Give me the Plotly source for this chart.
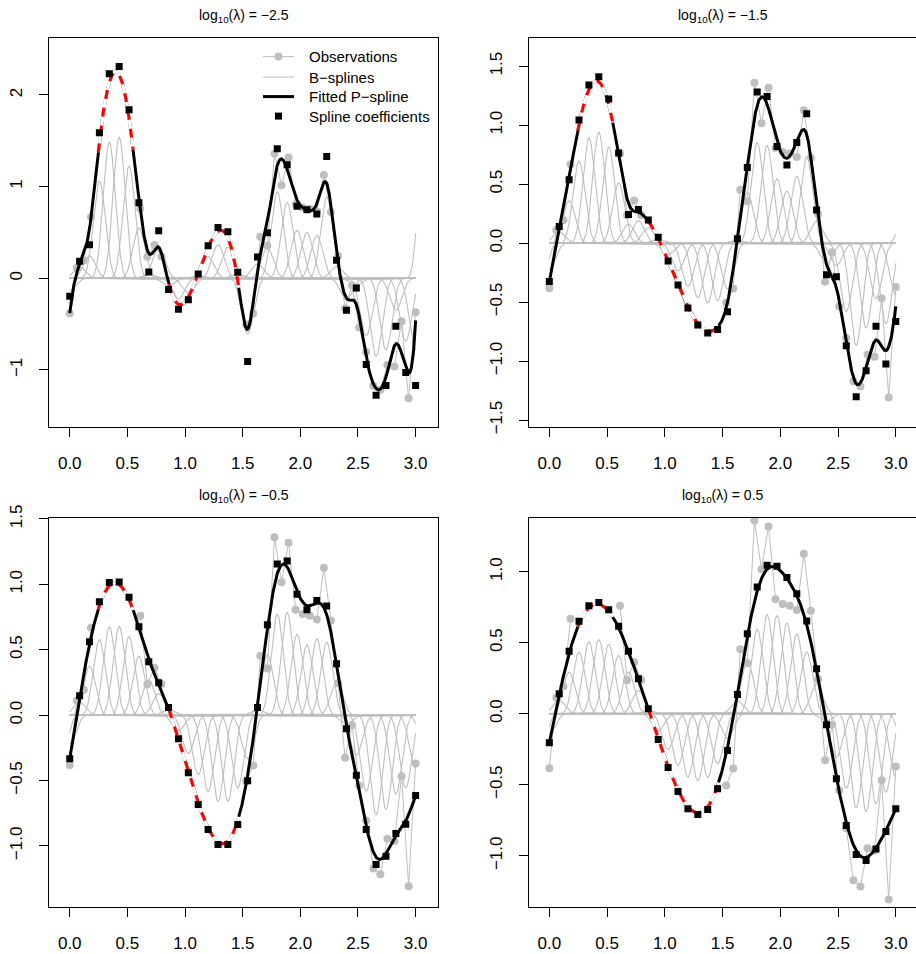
import numpy as np
import plotly.graph_objects as go

# ---------------- data ----------------
obs_x = [0.000, 0.061, 0.122, 0.184, 0.612, 0.673, 0.735, 0.796,
         1.531, 1.592, 1.653, 1.714, 1.776, 1.837, 1.898, 1.959, 2.020,
         2.082, 2.143, 2.204, 2.265, 2.327, 2.388, 2.449, 2.510, 2.571,
         2.633, 2.694, 2.755, 2.816, 2.878, 2.939, 3.000]
obs_y = [-0.383, 0.112, 0.194, 0.668, 0.760, 0.236, 0.362, 0.238,
         -0.505, -0.385, 0.453, 0.356, 1.360, 1.016, 1.318, 0.806, 0.772,
         0.760, 0.730, 1.126, 0.724, 0.244, -0.327, -0.078, -0.538, -0.805,
         -1.172, -1.216, -0.946, -0.962, -0.468, -1.308, -0.371]

# positions of the spline coefficients (knot centres, 35 segments on [0, 3])
coef_x = [0.0000, 0.0857, 0.1714, 0.2571, 0.3429, 0.4286, 0.5143, 0.6000,
          0.6857, 0.7714, 0.8571, 0.9429, 1.0286, 1.1143, 1.2000, 1.2857,
          1.3714, 1.4571, 1.5429, 1.6286, 1.7143, 1.8000, 1.8857, 1.9714,
          2.0571, 2.1429, 2.2286, 2.3143, 2.4000, 2.4857, 2.5714, 2.6571,
          2.7429, 2.8286, 2.9143, 3.0000]

coef_m25 = [-0.196, 0.185, 0.367, 1.589, 2.232, 2.312, 1.839, 0.825, 0.069,
            0.520, -0.123, -0.338, -0.233, 0.047, 0.356, 0.553, 0.509, 0.067,
            -0.909, 0.233, 0.498, 1.414, 1.240, 0.785, 0.749, 0.701, 1.330,
            0.196, -0.349, -0.106, -0.941, -1.276, -1.170, -0.523, -1.028, -1.170]
coef_m15 = [-0.326, 0.140, 0.538, 1.044, 1.340, 1.411, 1.222, 0.764, 0.242,
            0.284, 0.196, 0.049, -0.151, -0.354, -0.549, -0.693, -0.761, -0.733,
            -0.581, 0.038, 0.640, 1.281, 1.242, 0.818, 0.662, 0.852, 1.097,
            0.281, -0.267, -0.284, -0.869, -1.301, -1.081, -0.705, -1.024, -0.665]
coef_m05 = [-0.333, 0.148, 0.560, 0.866, 1.013, 1.018, 0.901, 0.675, 0.408,
            0.247, 0.059, -0.180, -0.440, -0.684, -0.875, -0.989, -0.989, -0.837,
            -0.501, 0.059, 0.690, 1.156, 1.178, 0.924, 0.805, 0.876, 0.835,
            0.392, -0.104, -0.460, -0.875, -1.142, -1.079, -0.905, -0.834, -0.615]
coef_p05 = [-0.204, 0.141, 0.439, 0.650, 0.760, 0.782, 0.732, 0.615, 0.439,
            0.246, 0.035, -0.181, -0.378, -0.547, -0.669, -0.709, -0.674, -0.528,
            -0.258, 0.136, 0.563, 0.892, 1.044, 1.037, 0.958, 0.845, 0.652,
            0.317, -0.077, -0.458, -0.787, -0.991, -1.033, -0.951, -0.829, -0.669]

# coefficients of the two boundary B-splines (centred just outside [0, 3], not plotted as squares)
edge_m25 = [-1.67, 2.95]
edge_m15 = [-0.80, 0.47]
edge_m05 = [-0.81, -0.40]
edge_p05 = [-0.55, -0.51]

# x-ranges with no observations (fit shown red dashed there)
gap_lo = [0.245, 0.857]
gap_hi = [0.551, 1.469]

panel_titles = ["\u22122.5", "\u22121.5", "\u22120.5", "0.5"]
legend_labels = ["Observations", "B\u2212splines", "Fitted P\u2212spline", "Spline coefficients"]
x_ticks = [0.0, 0.5, 1.0, 1.5, 2.0, 2.5, 3.0]
y_ticks_list = [[-1, 0, 1, 2],
                [-1.5, -1.0, -0.5, 0.0, 0.5, 1.0, 1.5],
                [-1.0, -0.5, 0.0, 0.5, 1.0, 1.5],
                [-1.0, -0.5, 0.0, 0.5, 1.0]]
y_fmt = [".0f", ".1f", ".1f", ".1f"]

# ---------------- layout geometry (pixels) ----------------
W, H = 916, 954


def vpx(y):
    # vertical calibration of the page capture (target pixel -> layout pixel)
    return (y - 12.4) / 0.978


box_x = [(49, 438), (529, 916), (49, 438), (529, 916)]
box_y = [(37, 426), (37, 426), (517, 906), (517, 906)]
x_ranges = [(-0.180, 3.194), (-0.176, 3.175), (-0.180, 3.194), (-0.176, 3.175)]
y_ranges = [(-1.618, 2.626), (-1.555, 1.742), (-1.464, 1.510), (-1.357, 1.380)]

coef_sets = [coef_m25, coef_m15, coef_m05, coef_p05]
edge_sets = [edge_m25, edge_m15, edge_m05, edge_p05]

GRAY = "#bebebe"
FONT = "Liberation Sans, Arial, Helvetica, sans-serif"


def cubic_bspline(x, centre, h):
    t = np.abs((x - centre) / h)
    return np.where(t < 1, 2.0 / 3.0 - t ** 2 + t ** 3 / 2.0,
                    np.where(t < 2, (2.0 - t) ** 3 / 6.0, 0.0))


h = float(np.mean(np.diff(coef_x)))
grid = np.linspace(0.0, 3.0, 901)
centres = [coef_x[0] - h] + list(coef_x) + [coef_x[-1] + h]

# observations with breaks across the data gaps
ox, oy = [], []
for i, (xv, yv) in enumerate(zip(obs_x, obs_y)):
    if i > 0 and any(obs_x[i - 1] < lo and xv > hi for lo, hi in zip(gap_lo, gap_hi)):
        ox.append(None)
        oy.append(None)
    ox.append(xv)
    oy.append(yv)

fig = go.Figure()

for k in range(4):
    ax = "" if k == 0 else str(k + 1)
    xa, ya = "x" + ax, "y" + ax
    coefs = [edge_sets[k][0]] + list(coef_sets[k]) + [edge_sets[k][1]]

    basis = np.array([cubic_bspline(grid, c, h) for c in centres])
    fitted = np.array(coefs) @ basis

    fig.add_trace(go.Scatter(
        x=ox, y=oy, mode="lines+markers", name=legend_labels[0],
        line=dict(color=GRAY, width=1), marker=dict(color=GRAY, size=8),
        showlegend=False, xaxis=xa, yaxis=ya))

    bx, by = [], []
    for a, row in zip(coefs, basis):
        bx += list(grid) + [None]
        by += list(a * row) + [None]
    fig.add_trace(go.Scatter(
        x=bx, y=by, mode="lines", name=legend_labels[1],
        line=dict(color=GRAY, width=1.1), showlegend=False,
        xaxis=xa, yaxis=ya))

    fig.add_trace(go.Scatter(
        x=grid, y=fitted, mode="lines", name=legend_labels[2],
        line=dict(color="black", width=3), showlegend=False,
        xaxis=xa, yaxis=ya))

    gx, gy = [], []
    for lo, hi in zip(gap_lo, gap_hi):
        m = (grid >= lo) & (grid <= hi)
        gx += list(grid[m]) + [None]
        gy += list(fitted[m]) + [None]
    fig.add_trace(go.Scatter(
        x=gx, y=gy, mode="lines", line=dict(color="white", width=3.2),
        showlegend=False, hoverinfo="skip", xaxis=xa, yaxis=ya))
    fig.add_trace(go.Scatter(
        x=gx, y=gy, mode="lines", line=dict(color="red", width=3, dash="9px,9px"),
        showlegend=False, hoverinfo="skip", xaxis=xa, yaxis=ya))

    fig.add_trace(go.Scatter(
        x=coef_x, y=coef_sets[k], mode="markers", name=legend_labels[3],
        marker=dict(color="black", symbol="square", size=7, line=dict(width=0)),
        showlegend=False, xaxis=xa, yaxis=ya))

    x0, x1 = box_x[k]
    y0, y1 = vpx(box_y[k][0]), vpx(box_y[k][1])
    right_col = k in (1, 3)
    fig.layout["xaxis" + ax] = dict(
        domain=[x0 / W, x1 / W], range=list(x_ranges[k]), anchor=ya,
        tickvals=x_ticks, tickformat=".1f", ticks="outside", ticklen=9,
        tickwidth=1, tickcolor="black", showline=True, linecolor="black",
        linewidth=1, mirror=True, showgrid=False, zeroline=False,
        ticklabelstandoff=12, tickfont=dict(size=17, color="black", family=FONT))
    fig.layout["yaxis" + ax] = dict(
        domain=[1 - y1 / H, 1 - y0 / H], range=list(y_ranges[k]), anchor=xa,
        tickvals=y_ticks_list[k], tickformat=y_fmt[k], ticks="outside",
        ticklen=9, tickwidth=1, tickcolor="black", showline=True,
        linecolor="black", linewidth=1, mirror=(not right_col),
        showgrid=False, zeroline=False, tickangle=-90,
        ticklabelstandoff=10, tickfont=dict(size=17, color="black", family=FONT))

    fig.add_annotation(
        x=(x0 + x1) / 2 / W, y=1 - vpx(box_y[k][0] - 22) / H, xref="paper", yref="paper",
        text="log<sub>10</sub>(\u03bb) = " + panel_titles[k], showarrow=False,
        font=dict(size=14, color="black", family=FONT),
        xanchor="center", yanchor="middle")

# ---------------- legend (drawn in a pixel-space overlay) ----------------
fig.layout["xaxis5"] = dict(domain=[0, 1], range=[0, W], anchor="y5", visible=False, fixedrange=True)
fig.layout["yaxis5"] = dict(domain=[0, 1], range=[H, 0], anchor="x5", visible=False, fixedrange=True)
leg_x0, leg_x1, leg_text_x = 263, 294, 307
leg_rows = [vpx(v) for v in (56, 76.5, 96, 115.5)]
for yy, col, wd in [(leg_rows[0], GRAY, 1), (leg_rows[1], GRAY, 1), (leg_rows[2], "black", 3)]:
    fig.add_shape(type="line", xref="x5", yref="y5", x0=leg_x0, x1=leg_x1,
                  y0=yy, y1=yy, line=dict(color=col, width=wd))
fig.add_trace(go.Scatter(
    x=[(leg_x0 + leg_x1) / 2], y=[leg_rows[0]], mode="markers",
    marker=dict(color=GRAY, size=8), showlegend=False, hoverinfo="skip",
    xaxis="x5", yaxis="y5"))
fig.add_trace(go.Scatter(
    x=[(leg_x0 + leg_x1) / 2], y=[leg_rows[3]], mode="markers",
    marker=dict(color="black", symbol="square", size=7, line=dict(width=0)),
    showlegend=False, hoverinfo="skip", xaxis="x5", yaxis="y5"))
for yy, lab in zip(leg_rows, legend_labels):
    fig.add_annotation(x=leg_text_x, y=yy, xref="x5", yref="y5", text=lab,
                       showarrow=False, xanchor="left", yanchor="middle",
                       font=dict(size=15, color="black", family=FONT))

fig.update_layout(
    width=W, height=H, margin=dict(l=0, r=0, t=0, b=0),
    paper_bgcolor="white", plot_bgcolor="rgba(0,0,0,0)", showlegend=False,
    font=dict(family=FONT, color="black"),
)

fig.write_html(
    "out.html",
    config={"displayModeBar": False},
    post_script="document.body.style.margin='0';document.body.style.overflow='hidden';",
)
